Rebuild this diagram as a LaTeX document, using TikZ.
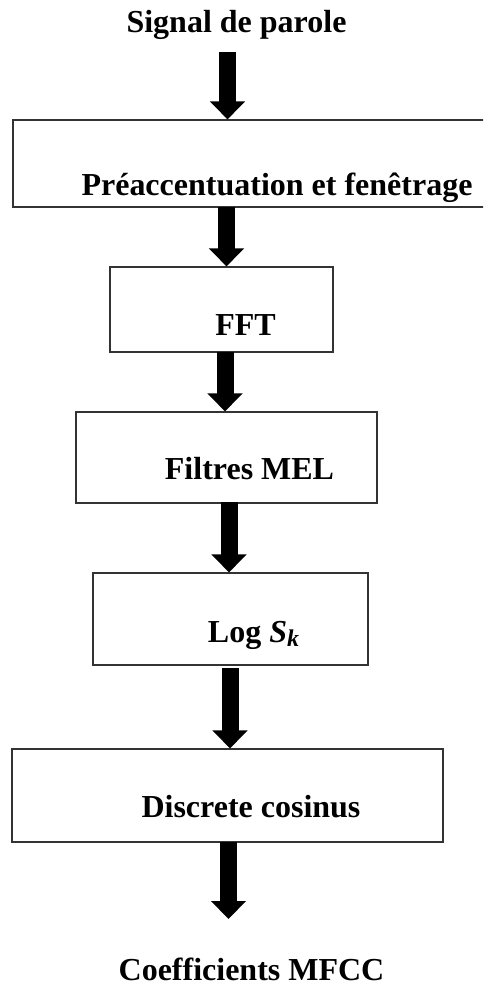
\documentclass[tikz,border=0pt]{standalone}
\usepackage{fontspec}
\setmainfont{Liberation Serif}
\usetikzlibrary{arrows.meta}
\begin{document}
\begin{tikzpicture}[x=1pt,y=-1pt,
  box/.style={draw=black!80,line width=1.1pt,rectangle,inner sep=0pt},
  lbl/.style={anchor=base,inner sep=0pt,font=\fontsize{32}{38}\selectfont\bfseries},
  bigarrow/.style={line width=17pt,-{Triangle[width=34pt,length=18pt]}}]
\useasboundingbox (0,0) rectangle (483,986);
\clip (0,0) rectangle (483,986);
% boxes
\node[box,minimum width=507pt,minimum height=87pt] (b1) at (266.5,163.5) {};
\node[box,minimum width=223pt,minimum height=85pt] (b2) at (221.5,309.5) {};
\node[box,minimum width=301pt,minimum height=91pt] (b3) at (226.5,457.5) {};
\node[box,minimum width=275pt,minimum height=92pt] (b4) at (230.5,619) {};
\node[box,minimum width=431pt,minimum height=93pt] (b5) at (227.5,795.5) {};
% labels
\node[lbl] (sig) at (236.5,32) {Signal de parole};
\node[lbl] (t1) at (277,195) {Préaccentuation et fenêtrage};
\node[lbl] (t2) at (245.5,335) {FFT};
\node[lbl] (t3) at (249.5,479) {Filtres MEL};
\node[lbl] (t4) at (253.5,642) {Log \textit{S}\raisebox{-0.15em}{\fontsize{24}{26}\selectfont\textit{k}}};
\node[lbl] (t5) at (251,817) {Discrete cosinus};
\node[lbl] (out) at (251.5,980) {Coefficients MFCC};
% arrow start points
\coordinate (a1) at (227.5,52);
\coordinate (a2) at (226.5,207);
\coordinate (a3) at (225,352);
\coordinate (a4) at (229,502);
\coordinate (a5) at (230,668);
\coordinate (a6) at (228.5,842);
\coordinate (e6) at (228.5,919);
\draw[bigarrow] (a1) -- (a1 |- b1.north);
\draw[bigarrow] (a2) -- (a2 |- b2.north);
\draw[bigarrow] (a3) -- (a3 |- b3.north);
\draw[bigarrow] (a4) -- (a4 |- b4.north);
\draw[bigarrow] (a5) -- (a5 |- b5.north);
\draw[bigarrow] (a6) -- (e6);
\end{tikzpicture}
\end{document}
